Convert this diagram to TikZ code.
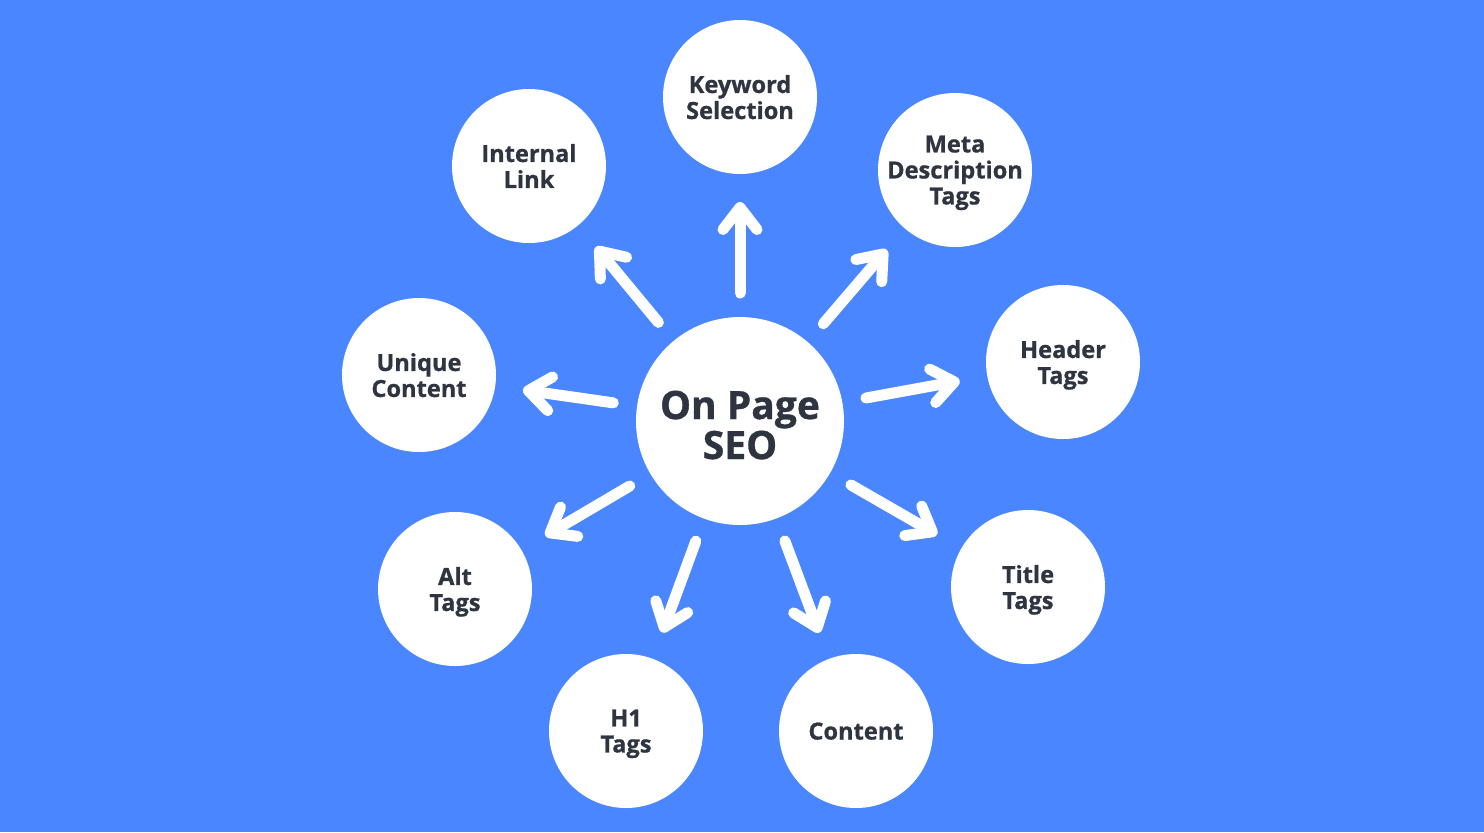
\documentclass[tikz,border=0pt]{standalone}
\usepackage{fontspec}
\setmainfont{Open Sans}[BoldFeatures={FakeBold=0.8}]
\usetikzlibrary{arrows.meta}
\definecolor{bgblue}{RGB}{74,134,255}
\definecolor{ink}{RGB}{46,52,64}
\begin{document}
\begin{tikzpicture}[x=0.5pt,y=-0.5pt,
  bubble/.style={circle,fill=white,minimum size=77pt,inner sep=0pt,outer sep=0pt,
    align=center,text=ink,text depth=0pt,font=\fontsize{11.8}{13}\selectfont\bfseries},
  hub/.style={bubble,minimum size=104pt,text height=38pt,font=\fontsize{19.5}{20}\selectfont\bfseries},
  link/.style={white,line width=5.5pt,line cap=round,shorten <=12pt,shorten >=14pt,
    -{Straight Barb[length=11pt,width=17pt,round]}}]
\fill[bgblue] (0,0) rectangle (1484,832);
\node[hub] (seo) at (740,421) {On Page\\SEO};
\node[bubble] (kw) at (740,97) {Keyword\\Selection};
\node[bubble] (ilink) at (529,166) {Internal\\Link};
\node[bubble] (meta) at (955,170) {Meta\\Description\\Tags};
\node[bubble] (header) at (1063,362) {Header\\Tags};
\node[bubble] (unique) at (419,375) {Unique\\Content};
\node[bubble] (alt) at (455,589) {Alt\\Tags};
\node[bubble] (title) at (1028,587) {Title\\Tags};
\node[bubble] (hone) at (626,731) {H1\\Tags};
\node[bubble] (content) at (856,731) {Content};
\foreach \t in {kw,ilink,meta,header,unique,alt,title,hone,content}
  \draw[link] (seo) -- (\t);
\end{tikzpicture}
\end{document}
